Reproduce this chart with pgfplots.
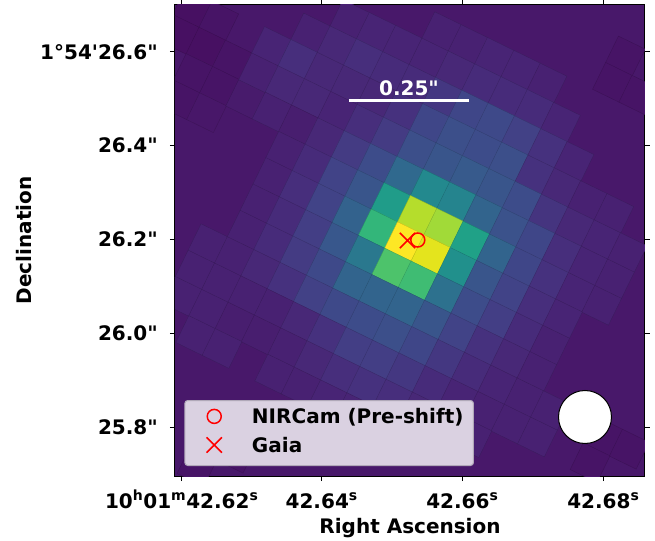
\documentclass[border=0pt]{standalone}
\usepackage{fontspec}
\setmainfont{DejaVu Sans}[Ligatures=TeXOff]
\usepackage{pgfplots}
\usepackage{pgfplotstable}
\pgfplotsset{compat=1.18}
\definecolor{bgcol}{HTML}{48186A}
\definecolor{legfill}{HTML}{DAD1E1}
\definecolor{legedge}{HTML}{B0A8B8}
\newcommand\F{\fontsize{20bp}{24bp}\selectfont\bfseries}

% rotated detector pixels: grid index i, j and normalised flux c
\pgfplotstableread{
i j c
-11 -4 0.04
-11 -3 0.04
-11 -2 0.05
-10 -4 0.05
-10 -3 0.04
-10 -2 0.05
-10 -1 0.05
-9 -3 0.05
-9 -2 0.05
-9 -1 0.06
-8 -2 0.07
3 -9 0.05
4 -9 0.04
3 -8 0.05
4 -8 0.05
-4 9 0.05
-3 9 0.05
-4 10 0.05
8 3 0.05
8 4 0.05
9 3 0.05
-7 -5 0.09
-6 -6 0.09
-5 -6 0.10
-4 -6 0.10
-6 -5 0.11
-5 -5 0.13
-4 -5 0.12
-8 -4 0.10
-8 -3 0.09
-3 -7 0.09
-2 -7 0.09
-1 -7 0.10
0 -7 0.10
1 -7 0.09
-3 -6 0.10
-2 -6 0.11
-1 -6 0.12
0 -6 0.12
1 -6 0.12
2 -6 0.10
-3 -5 0.12
-2 -5 0.16
-1 -5 0.21
0 -5 0.22
1 -5 0.19
2 -5 0.14
3 -5 0.10
-7 -4 0.13
-6 -4 0.11
-5 -4 0.11
-4 -4 0.11
-3 -4 0.14
-2 -4 0.21
-1 -4 0.24
0 -4 0.23
1 -4 0.24
2 -4 0.14
3 -4 0.11
4 -4 0.09
5 -4 0.09
-7 -3 0.11
-6 -3 0.11
-5 -3 0.10
-4 -3 0.13
-3 -3 0.17
-2 -3 0.24
-1 -3 0.26
0 -3 0.28
1 -3 0.26
2 -3 0.23
3 -3 0.15
4 -3 0.11
5 -3 0.10
6 -3 0.09
-7 -2 0.09
-6 -2 0.08
-5 -2 0.11
-4 -2 0.17
-3 -2 0.23
-2 -2 0.34
-1 -2 0.47
0 -2 0.45
1 -2 0.32
2 -2 0.25
3 -2 0.21
4 -2 0.13
5 -2 0.10
6 -2 0.09
-6 -1 0.09
-5 -1 0.12
-4 -1 0.20
-3 -1 0.26
-2 -1 0.55
-1 -1 0.89
0 -1 0.86
1 -1 0.57
2 -1 0.32
3 -1 0.21
4 -1 0.14
5 -1 0.10
6 -1 0.09
-6 0 0.09
-5 0 0.13
-4 0 0.20
-3 0 0.31
-2 0 0.66
-1 0 1.00
0 0 0.96
1 0 0.50
2 0 0.26
3 0 0.20
4 0 0.13
5 0 0.10
-6 1 0.09
-5 1 0.12
-4 1 0.18
-3 1 0.27
-2 1 0.40
-1 1 0.72
0 1 0.69
1 1 0.37
2 1 0.23
3 1 0.18
4 1 0.12
5 1 0.09
-6 2 0.09
-5 2 0.12
-4 2 0.17
-3 2 0.22
-2 2 0.32
-1 2 0.32
0 2 0.32
1 2 0.26
2 2 0.20
3 2 0.14
4 2 0.11
5 2 0.09
-7 3 0.09
-6 3 0.09
-5 3 0.11
-4 3 0.14
-3 3 0.19
-2 3 0.22
-1 3 0.23
0 3 0.24
1 3 0.21
2 3 0.16
3 3 0.12
4 3 0.10
5 3 0.09
6 3 0.09
-7 4 0.09
-6 4 0.09
-5 4 0.09
-4 4 0.09
-3 4 0.11
-2 4 0.14
-1 4 0.18
0 4 0.18
1 4 0.16
2 4 0.12
3 4 0.10
4 4 0.09
5 4 0.09
6 4 0.09
-7 5 0.09
-6 5 0.09
-5 5 0.08
-4 5 0.08
-3 5 0.09
-2 5 0.11
-1 5 0.13
0 5 0.14
1 5 0.13
2 5 0.11
3 5 0.09
4 5 0.09
-6 6 0.09
-5 6 0.09
-3 6 0.09
-2 6 0.09
-1 6 0.10
0 6 0.10
1 6 0.09
}\cells

\begin{document}
\begin{tikzpicture}
\path[use as bounding box] (-175bp,-65bp) rectangle (480bp,476bp);
\begin{axis}[
  at={(0,0)}, anchor=south west,
  scale only axis, width=470bp, height=471bp,
  xmin=175, xmax=645, ymin=-476, ymax=-5,
  axis background/.style={fill=bgcol},
  colormap/viridis, point meta min=0, point meta max=1,
  clip marker paths=true,
  axis line style={line width=1bp},
  tick align=outside, major tick length=5bp,
  every tick/.style={black, line width=1bp},
  xtick={181.7,321.7,462.3,603.3},
  xticklabels={10\textsuperscript{h}01\textsuperscript{m}42.62\textsuperscript{s},
               42.64\textsuperscript{s}, 42.66\textsuperscript{s}, 42.68\textsuperscript{s}},
  ytick={-427,-333.3,-239.3,-145.7,-51.7},
  yticklabels={25.8", 26.0", 26.2", 26.4", 1°54'26.6"},
  every tick label/.append style={font=\F, inner sep=0pt},
  xticklabel style={anchor=base, yshift=-27bp},
  yticklabel style={anchor=east, xshift=-12bp},
  xlabel={Right Ascension}, ylabel={Declination},
  label style={font=\F, inner sep=0pt},
  xlabel style={at={(axis description cs:0.5,-0.12102)}, anchor=base},
  ylabel style={at={(axis description cs:-0.30532,0.5)}, anchor=base},
  legend style={at={(axis cs:184.3,-466)}, anchor=south west,
    draw=legedge, line width=1bp, rounded corners=3bp, fill=legfill,
    inner xsep=10bp, inner ysep=8.2bp, row sep=8.6bp,
    nodes={inner sep=0pt, text height=15bp, text depth=5bp, font=\F},
    /tikz/every odd column/.append style={column sep=18.3bp}},
  legend cell align=left,
  legend image code/.code={%
    \path (0bp,2.3bp) (37.4bp,2.3bp);
    \draw[mark repeat=2, mark phase=2, #1] plot coordinates {(0bp,2.3bp) (18.7bp,2.3bp) (37.4bp,2.3bp)};},
]
\addplot[scatter, only marks, mark=square*, scatter src=explicit,
  mark size=14.9bp, mark options={rotate=-26, line width=0.3bp}, forget plot]
  table[x expr={424+26.34*(\thisrow{i}+0.5)-12.84*(\thisrow{j}+0.5)},
        y expr={-(235+12.84*(\thisrow{i}+0.5)+26.34*(\thisrow{j}+0.5))},
        meta=c] {\cells};
\draw[white, line width=2.7bp] (axis cs:349,-100.7) -- (axis cs:469,-100.7);
\node[white, font=\F, anchor=base, inner sep=0pt] at (axis cs:409,-95.7) {0.25"};
\draw[black, line width=1bp, fill=white] (axis cs:585,-417) circle[radius=26.5bp];
\addplot[only marks, mark=o, red, mark size=7bp, line width=1.5bp] coordinates {(417.8,-240)};
\addlegendentry{NIRCam (Pre-shift)}
\addplot[only marks, mark=x, red, mark size=10.8bp, line width=1.5bp] coordinates {(407.5,-240.5)};
\addlegendentry{Gaia}
\end{axis}
\end{tikzpicture}
\end{document}
